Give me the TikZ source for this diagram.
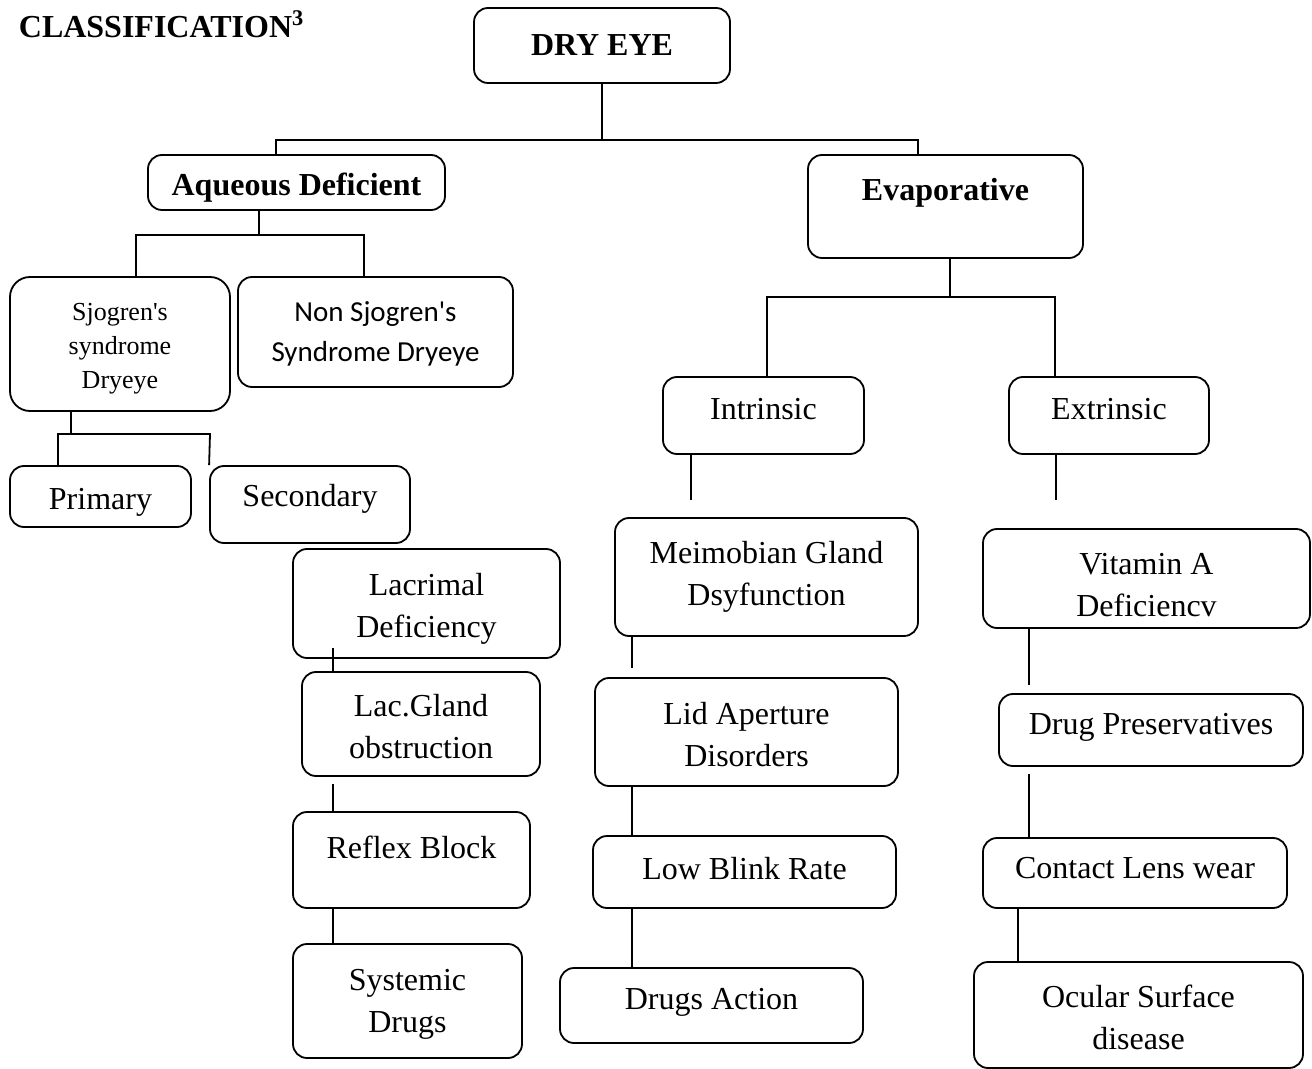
\documentclass[tikz,border=0pt]{standalone}
\usepackage{fontspec}
\setmainfont{Liberation Serif}
\newfontfamily\calib{Carlito}
\begin{document}
\begin{tikzpicture}[x = 0.5pt, y = -0.5pt,
		box/.style = {draw, rounded corners = 7pt, align = center, inner sep = 0pt, line width = 0.9pt, font = \fontsize{16}{21}\selectfont},
		title/.style = {font = \bfseries\fontsize{16}{21}\selectfont},
		low/.style = {execute at begin node = \rule{0pt}{#1}},
		line width = 0.9pt]
					\useasboundingbox (0, 0) rectangle (1312, 1069);

					\coordinate (t1) at (276, 140);
					\coordinate (t2) at (918, 140);

					\coordinate (a0) at (259, 235);
					\coordinate (a1) at (136, 235);
					\coordinate (a2) at (364, 235);

					\coordinate (s0) at (71, 434);
					\coordinate (s1) at (58, 434);
					\coordinate (s2) at (210, 434);

					\coordinate (l1) at (333, 648);
					\coordinate (l2) at (333, 784);
					\coordinate (l3) at (333, 900);

					\coordinate (e0) at (950, 297);
					\coordinate (e1) at (767, 297);
					\coordinate (e2) at (1055, 297);

					\coordinate (i1) at (691, 500);
					\coordinate (x1) at (1056, 500);

					\coordinate (m1) at (632, 668);
					\coordinate (v1) at (1029, 685);
					\coordinate (v2) at (1029, 774);
					\coordinate (v3) at (1018, 900);

					\node [title, anchor = base west, inner sep = 0pt] (cls) at (18, 38) {CLASSIFICATION\textsuperscript{3}};

					\node [box, title, minimum width = 128pt, minimum height = 37.5pt] (dry) at (602, 45.5) {DRY EYE};
					\node [box, title, minimum width = 148.5pt, minimum height = 27.5pt, low = 16pt] (aq) at (296.5, 182.5) {Aqueous Deficient};
					\node [box, title, minimum width = 137.5pt, minimum height = 51.5pt, text depth = 17pt] (evap) at (945.5, 206.5) {Evaporative};

					\node [box, minimum width = 110pt, minimum height = 67pt, rounded corners = 10pt, font = \fontsize{13}{17}\selectfont, low = 47pt] (sjo) at (120, 344) {Sjogren\textquotesingle s\\syndrome\\Dryeye};
					\node [box, minimum width = 137.5pt, minimum height = 55pt, font = \calib\fontsize{14.5}{20}\selectfont, low = 31.5pt] (nsjo) at (375.5, 332) {Non Sjogren's\\Syndrome Dryeye};
					\node [box, minimum width = 90.5pt, minimum height = 30.5pt, low = 16pt] (prim) at (100.5, 496.5) {Primary};
					\node [box, minimum width = 100pt, minimum height = 38.5pt, text depth = 9pt] (sec) at (310, 504.5) {Secondary};

					\node [box, minimum width = 133.5pt, minimum height = 54.5pt, low = 37pt] (lacd) at (426.5, 603.5) {Lacrimal\\Deficiency};
					\node [box, minimum width = 119pt, minimum height = 52pt, low = 35pt] (lacg) at (421, 724) {Lac.Gland\\obstruction};
					\node [box, minimum width = 118.5pt, minimum height = 48pt, text depth = 13pt] (refl) at (411.5, 860) {Reflex Block};
					\node [box, minimum width = 114.5pt, minimum height = 57pt, low = 35pt] (sysd) at (407.5, 1001) {Systemic\\Drugs};

					\node [box, minimum width = 100.5pt, minimum height = 38.5pt, text depth = 6.5pt] (intr) at (763.5, 415.5) {Intrinsic};
					\node [box, minimum width = 100pt, minimum height = 38.5pt, text depth = 6.5pt] (extr) at (1109, 415.5) {Extrinsic};

					\node [box, minimum width = 151.5pt, minimum height = 59pt] (meib) at (766.5, 577) {Meimobian Gland\\Dsyfunction};
					\node [box, minimum width = 151.5pt, minimum height = 54pt, low = 35pt] (lid) at (746.5, 732) {Lid Aperture\\Disorders};
					\node [box, minimum width = 151.5pt, minimum height = 36pt, text depth = 4pt] (blink) at (744.5, 872) {Low Blink Rate};
					\node [box, minimum width = 151.5pt, minimum height = 37.5pt, text depth = 7pt] (drga) at (711.5, 1005.5) {Drugs Action};

					\node [box, minimum width = 163.5pt, minimum height = 49.5pt, low = 38pt] (vita) at (1146.5, 578.5) {Vitamin A\\Deficiencv};
					\node [box, minimum width = 152pt, minimum height = 36pt, text depth = 6.5pt] (pres) at (1151, 730) {Drug Preservatives};
					\node [box, minimum width = 152pt, minimum height = 35pt, text depth = 5pt] (cont) at (1135, 873) {Contact Lens wear};
					\node [box, minimum width = 164.5pt, minimum height = 53pt, low = 35pt] (ocul) at (1138.5, 1015) {Ocular Surface\\disease};

					\draw (dry.south) -- (dry.south |- t1);
					\draw (aq.north -| t1) -- (t1) -- (t2) -- (evap.north -| t2);

					\draw (a0 |- aq.south) -- (a0);
					\draw (sjo.north -| a1) -- (a1) -- (a2) -- (nsjo.north -| a2);
					\draw (s0 |- sjo.south) -- (s0);
					\draw (prim.north -| s1) -- (s1) -- (s2) -- (sec.north west);

					\draw (l1) -- (l1 |- lacg.north);
					\draw (l2) -- (l2 |- refl.north);
					\draw (l3 |- refl.south) -- (l3 |- sysd.north);

					\draw (e0 |- evap.south) -- (e0);
					\draw (intr.north -| e1) -- (e1) -- (e2) -- (extr.north -| e2);
					\draw (i1 |- intr.south) -- (i1);
					\draw (x1 |- extr.south) -- (x1);

					\draw (m1 |- meib.south) -- (m1);
					\draw (m1 |- lid.south) -- (m1 |- blink.north);
					\draw (m1 |- blink.south) -- (m1 |- drga.north);

					\draw (v1 |- vita.south) -- (v1);
					\draw (v2) -- (v2 |- cont.north);
					\draw (v3 |- cont.south) -- (v3 |- ocul.north);
				\end{tikzpicture}
\end{document}
